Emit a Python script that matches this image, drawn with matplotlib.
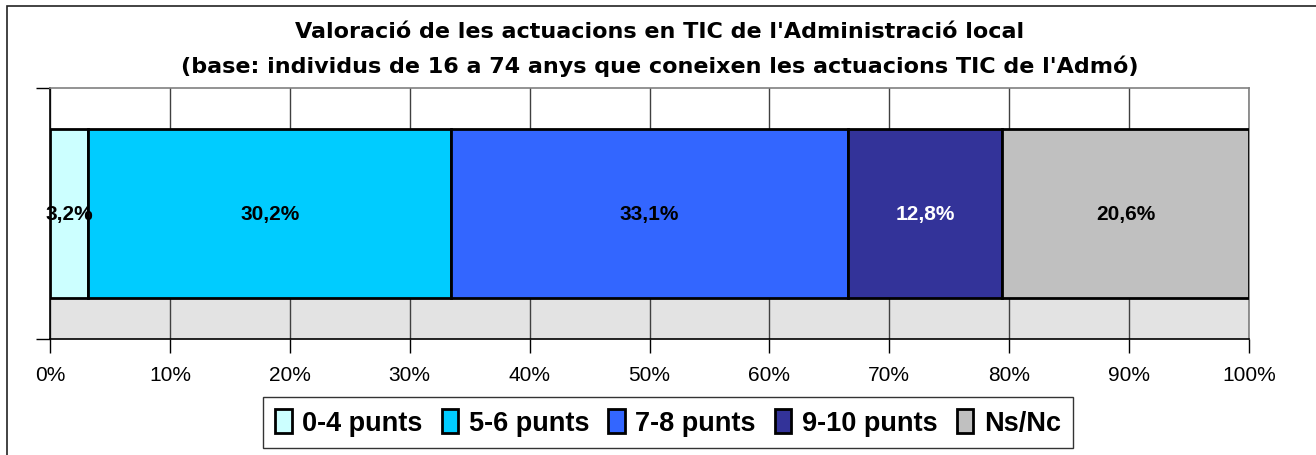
import matplotlib.pyplot as plt
import matplotlib.patches as mpatches
import numpy as np

categories = ["0-4 punts", "5-6 punts", "7-8 punts", "9-10 punts", "Ns/Nc"]
values = [3.2, 30.2, 33.1, 12.8, 20.6]
labels = ["3,2%", "30,2%", "33,1%", "12,8%", "20,6%"]
colors = ["#CCFFFF", "#00CCFF", "#3366FF", "#333399", "#C0C0C0"]
label_colors = ["black", "black", "black", "white", "black"]
ticks = list(range(0, 101, 10))

plt.rcParams["font.family"] = ["Liberation Sans", "DejaVu Sans"]

W, H = 1316, 456
fig = plt.figure(figsize=(W / 100, H / 100), dpi=100)

# outer chart frame (only left and top edges show)
fig.patches.append(mpatches.Rectangle((7 / W, -0.1), 1.2, 1 - 7 / H + 0.1,
                                      transform=fig.transFigure, fill=False,
                                      edgecolor="#222222", linewidth=1.2))

ax = fig.add_axes([50 / W, 116 / H, 1199 / W, 251 / H])

# 100% stacked
pct = np.array(values) / sum(values) * 100
left = np.concatenate([[0], np.cumsum(pct)[:-1]])

ax.set_xlim(0, 100)
ax.set_ylim(-0.5, 0.5)
ax.axhspan(-0.5, 0, color="#E3E3E3", zorder=0.5)
for t in ticks:
    ax.axvline(t, color="#404040", linewidth=1.0, zorder=1)

for i in range(len(values)):
    ax.barh(0, pct[i], left=left[i], height=0.67, color=colors[i],
            edgecolor="black", linewidth=2, label=categories[i], zorder=3)
    ax.text(left[i] + pct[i] / 2, 0, labels[i], ha="center", va="center",
            fontsize=15, fontweight="bold", color=label_colors[i], zorder=4)

ax.set_xticks(ticks)
ax.set_xticklabels([f"{t}%" for t in ticks], fontsize=15)
ax.set_yticks([-0.5, 0.5])
ax.set_yticklabels([])
ax.tick_params(axis="x", direction="out", length=10, width=1, pad=9)
ax.tick_params(axis="y", direction="out", length=10, width=1)
for s in ["left", "bottom"]:
    ax.spines[s].set_color("black")
    ax.spines[s].set_linewidth(1.2)
for s in ["top", "right"]:
    ax.spines[s].set_color("#808080")
    ax.spines[s].set_linewidth(1.2)

fig.text(0.5015, 1 - 32 / H,
         "Valoració de les actuacions en TIC de l'Administració local",
         ha="center", va="center", fontsize=16, fontweight="bold",
         family="DejaVu Sans")
fig.text(0.5015, 1 - 66 / H,
         "(base: individus de 16 a 74 anys que coneixen les actuacions TIC de l'Admó)",
         ha="center", va="center", fontsize=16, fontweight="bold",
         family="DejaVu Sans")

handles = [mpatches.Patch(facecolor=c, edgecolor="black", linewidth=2) for c in colors]
leg = fig.legend(handles, categories, loc="center", bbox_to_anchor=(668 / W, 1 - 423.5 / H),
                 ncol=5, frameon=True, fancybox=False, edgecolor="black",
                 prop={"weight": "bold", "size": 19.5},
                 handlelength=0.6, handleheight=1.0, handletextpad=0.4,
                 columnspacing=0.7, borderpad=0.45)
leg.get_frame().set_linewidth(1.0)

fig.savefig("out.png", dpi=100)
